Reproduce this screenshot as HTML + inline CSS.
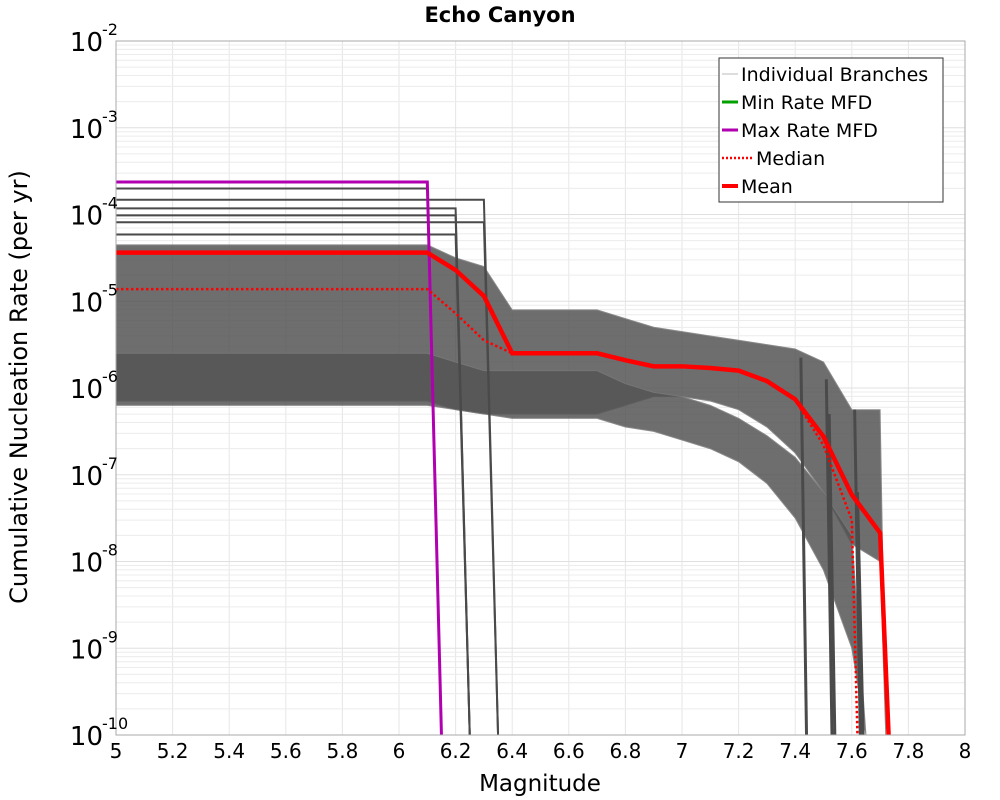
<!DOCTYPE html>
<html><head><meta charset="utf-8"><style>
body{margin:0;background:#fff;font-family:"Liberation Sans","DejaVu Sans",sans-serif}
svg{display:block}
</style></head><body>
<svg id="chart" width="1000" height="800" xmlns="http://www.w3.org/2000/svg" font-family="DejaVu Sans, Liberation Sans, sans-serif"></svg>
<script>
const xTicks=[5,5.2,5.4,5.6,5.8,6,6.2,6.4,6.6,6.8,7,7.2,7.4,7.6,7.8,8];
const xTickLabels=["5","5.2","5.4","5.6","5.8","6","6.2","6.4","6.6","6.8","7","7.2","7.4","7.6","7.8","8"];
const yDecades=[-2,-3,-4,-5,-6,-7,-8,-9,-10];
const bandM=[5,6.1,6.2,6.3,6.4,6.7,6.8,6.9,7.0,7.1,7.2,7.3,7.4,7.5,7.6,7.7,7.72];
const highUpper=[-4.35,-4.35,-4.5,-4.6,-5.1,-5.1,-5.2,-5.3,-5.35,-5.4,-5.45,-5.5,-5.55,-5.7,-6.25,-6.25,-10];
const highLower=[-6.15,-6.15,-6.25,-6.3,-6.3,-6.3,-6.2,-6.1,-6.1,-6.15,-6.25,-6.45,-6.75,-7.2,-7.8,-8.0,-10];
const lowM=[5,6.1,6.2,6.3,6.4,6.7,6.8,6.9,7.0,7.1,7.2,7.3,7.4,7.5,7.6,7.65];
const lowUpper=[-5.6,-5.6,-5.7,-5.8,-5.8,-5.8,-5.95,-6.05,-6.1,-6.2,-6.35,-6.55,-6.8,-7.2,-7.7,-10];
const lowLower=[-6.2,-6.2,-6.25,-6.3,-6.35,-6.35,-6.45,-6.5,-6.6,-6.7,-6.85,-7.1,-7.5,-8.1,-9.0,-10];
const darkLevels=[-3.7,-3.83,-3.93,-4.01,-4.09,-4.23];
const darkDropM=[6.1,6.3,6.2,6.2,6.3,6.2];
const darkEndM=[6.15,6.35,6.25,6.25,6.35,6.25];
const lateDropM=[7.43,7.52,7.53,7.62,7.63];
const lateDropTop=[-5.65,-5.9,-6.3,-6.25,-7.2];
const meanM=[5,6.1,6.2,6.3,6.4,6.7,6.8,6.9,7.0,7.1,7.2,7.3,7.4,7.5,7.6,7.7,7.73];
const meanV=[-4.44,-4.44,-4.64,-4.94,-5.6,-5.6,-5.68,-5.75,-5.75,-5.77,-5.8,-5.92,-6.13,-6.56,-7.23,-7.67,-10];
const medianM=[5,6.1,6.2,6.3,6.4,6.7,6.8,6.9,7.0,7.1,7.2,7.3,7.4,7.5,7.6,7.62];
const medianV=[-4.86,-4.86,-5.14,-5.45,-5.6,-5.6,-5.68,-5.75,-5.75,-5.77,-5.8,-5.93,-6.14,-6.66,-7.52,-10];
const maxM=[5,6.1,6.15];
const maxV=[-3.625,-3.625,-10];

const L=116,R=965,T=41,B=735;
const X=m=>L+(m-5)/3*(R-L);
const Y=v=>T+(-2-v)/8*(B-T);
const svg=document.getElementById('chart');
const NS='http://www.w3.org/2000/svg';
function mk(tag,attrs,parent){const e=document.createElementNS(NS,tag);for(const k in attrs)e.setAttribute(k,attrs[k]);(parent||svg).appendChild(e);return e;}
function txt(s,attrs,parent){const e=mk('text',attrs,parent);e.textContent=s;return e;}
const clip=mk('clipPath',{id:'pc'});mk('rect',{x:L,y:T,width:R-L,height:B-T},clip);

const grid=mk('g',{});


xTicks.forEach(m=>mk('line',{x1:X(m),x2:X(m),y1:T,y2:B,stroke:'#e6e6e6','stroke-width':1},grid));
yDecades.forEach(d=>{
  for(let k=1;k<10;k++){const v=d+Math.log10(k);if(v>-2||v<-10)continue;
    mk('line',{x1:L,x2:R,y1:Y(v),y2:Y(v),stroke:k==1?'#e0e0e0':'#ececec','stroke-width':1},grid);}
});

const plot=mk('g',{'clip-path':'url(#pc)'});


function band(ms,up,lo,name){
  let d='M'+ms.map((m,i)=>X(m)+','+Y(up[i])).join('L');
  for(let i=ms.length-1;i>=0;i--)d+='L'+X(ms[i])+','+Y(lo[i]);
  const p=mk('path',{d:d+'Z',fill:'#555',opacity:0.85,stroke:'#777','stroke-width':1},plot);
  
  
}
band(bandM,highUpper,highLower,'branch-band-high');
band(lowM,lowUpper,lowLower,'branch-band-low');
function line(ms,vs,attrs,name){
  const p=mk('path',Object.assign({d:'M'+ms.map((m,i)=>X(m)+','+Y(vs[i])).join('L'),fill:'none'},attrs),plot);
  
  
}
darkLevels.forEach((v,i)=>line([5,darkDropM[i],darkEndM[i]],[v,v,-10],{stroke:'#4a4a4a','stroke-width':2},'branch-dark'));
lateDropM.forEach((m,i)=>line([m-0.01,m+0.01],[lateDropTop[i],-10],{stroke:'#4a4a4a','stroke-width':3},'branch-late-drop'));
line(maxM,maxV,{stroke:'#b000b0','stroke-width':3},'max-rate-mfd');
line(medianM,medianV,{stroke:'#ff0000','stroke-width':2.5,'stroke-dasharray':'2.5,2.5'},'median-line');
line(meanM,meanV,{stroke:'#ff0000','stroke-width':4.5},'mean-line');

mk('rect',{x:L,y:T,width:R-L,height:B-T,fill:'none',stroke:'#aaa','stroke-width':1});

xTicks.forEach((m,i)=>{const t=txt(xTickLabels[i],{x:X(m),y:758,'font-size':20,'text-anchor':'middle',fill:'#000'});
  });
yDecades.forEach(d=>{const t=txt('10',{x:103,y:Y(d)+10,'font-size':26,'text-anchor':'end',fill:'#000'});
  
  const s=txt(String(d),{x:102,y:Y(d)-6,'font-size':16,'text-anchor':'start',fill:'#000'});
  });

const title=txt('Echo Canyon',{x:500,y:22,'font-size':21,'font-weight':'bold','text-anchor':'middle'});

const xt=txt('Magnitude',{x:540,y:791,'font-size':23,'text-anchor':'middle'});

const yt=txt('Cumulative Nucleation Rate (per yr)',{x:0,y:0,'font-size':24,'text-anchor':'middle',transform:'translate(27,387) rotate(-90)'});


const lg=mk('g',{});


mk('rect',{x:719,y:58,width:224,height:144,fill:'#fff',stroke:'#333','stroke-width':1},lg);
const items=[['Individual Branches','#bbb',1,''],['Min Rate MFD','#00a000',3,''],['Max Rate MFD','#b000b0',3,''],['Median','#ff0000',2.5,'2,2'],['Mean','#ff0000',4,'']];
items.forEach((it,i)=>{const y=74+i*28;const x2=it[0]=='Median'?752:738;
  mk('line',{x1:722,x2:x2,y1:y,y2:y,stroke:it[1],'stroke-width':it[2],'stroke-dasharray':it[3]},lg);
  const t=txt(it[0],{x:it[0]=='Median'?756:741,y:y+7,'font-size':19},lg);
  });
</script>
</body></html>
